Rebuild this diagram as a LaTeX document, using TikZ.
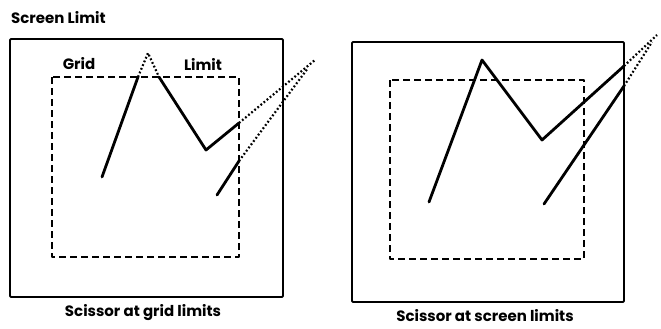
\documentclass[tikz,border=0pt]{standalone}
\usepackage{fontspec}
\setmainfont{Poppins}
\usetikzlibrary{positioning}

\begin{document}
\begin{tikzpicture}[
    x=1pt, y=-1pt,
    line join=round,
    screenbox/.style={draw=black, line width=1.8pt, rounded corners=1pt},
    gridbox/.style={draw=black, line width=1.3pt, dash pattern=on 7pt off 4pt},
    trace/.style={draw=black, line width=2.8pt, line cap=round},
    clipped/.style={draw=black, line width=2.2pt, line cap=butt, dash pattern=on 1.8pt off 2.2pt},
    lbl/.style={inner sep=0pt, font=\fontsize{15}{17}\selectfont\bfseries}
  ]
    \useasboundingbox (0,0) rectangle (661,329);

    % Titulo
    \node[lbl, anchor=west] (ScreenLbl) at (11,18) {Screen Limit};

    % Panel izquierdo: scissor at grid limits
    \draw[screenbox] (10,39) rectangle (283,297);
    \draw[gridbox] (52,77) rectangle (239,257);
    \node[lbl] (GridLbl) at (79,64) {Grid};
    \node[lbl] (LimitLbl) at (203,64) {Limit};

    \coordinate (LA) at (102,177);
    \coordinate (LB) at (138,77);
    \coordinate (LPeak) at (148,53);
    \coordinate (LC) at (159,77);
    \coordinate (LD) at (206,150);
    \coordinate (LE) at (239,123);
    \coordinate (LEnd) at (315,60);
    \coordinate (LF) at (217,195);
    \coordinate (LG) at (239,161);
    \coordinate (LEnd2) at (308,68);

    \draw[trace] (LA) -- (LB);
    \draw[trace] (LC) -- (LD) -- (LE);
    \draw[trace] (LF) -- (LG);
    \draw[clipped] (LB) -- (LPeak) -- (LC);
    \draw[clipped] (LE) -- (LEnd);
    \draw[clipped] (LG) -- (LEnd2);

    \node[lbl] (CapGrid) at (143,313) {Scissor at grid limits};

    % Panel derecho: scissor at screen limits
    \draw[screenbox] (352,42) rectangle (624,302);
    \draw[gridbox] (390,80) rectangle (584,259);

    \coordinate (RA) at (429,202);
    \coordinate (RPeak) at (482,60);
    \coordinate (RD) at (542,140);
    \coordinate (RE) at (624,66);
    \coordinate (REnd) at (657,35);
    \coordinate (RF) at (544,204);
    \coordinate (RG) at (624,86);
    \coordinate (REnd2) at (652,42);

    \draw[trace] (RA) -- (RPeak) -- (RD) -- (RE);
    \draw[trace] (RF) -- (RG);
    \draw[clipped] (RE) -- (REnd);
    \draw[clipped] (RG) -- (REnd2);

    \node[lbl] (CapScreen) at (485,316) {Scissor at screen limits};

  \end{tikzpicture}
\end{document}
